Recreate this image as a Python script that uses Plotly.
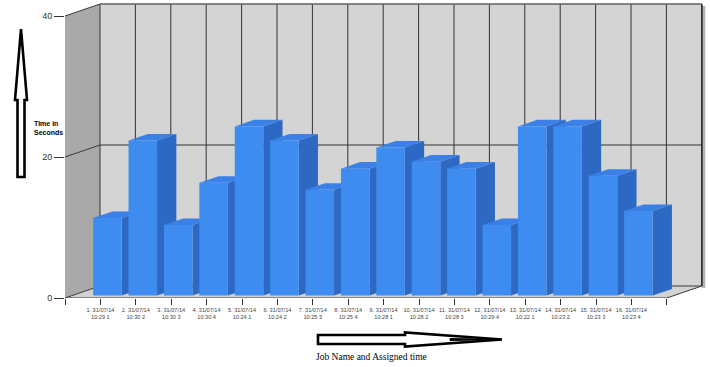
import plotly.graph_objects as go

# ---- data ----
job_ids = list(range(1, 17))
job_dates = ["31/07/14"] * 16
job_times = ["10:29 1", "10:30 2", "10:30 3", "10:30 4", "10:24 1", "10:24 2",
             "10:25 3", "10:25 4", "10:28 1", "10:28 2", "10:28 3", "10:29 4",
             "10:22 1", "10:23 2", "10:23 3", "10:23 4"]
seconds = [11, 22, 10, 16, 24, 22, 15, 18, 21, 19, 18, 10, 24, 24, 17, 12]
y_ticks = [0, 20, 40]

# ---- geometry of the pseudo-3D box (in axis units) ----
PX_X = 35.4          # pixels per category slot
PX_Y = 7.05          # pixels per second
N_SLOTS = 17
Y_TOP = 40
DX, DY = 35 / PX_X, 12 / PX_Y              # wall depth
BX, BY = 7 / PX_X, 2.4 / PX_Y              # bar set-back from the front plane
BDX, BDY = 19.3 / PX_X, 6.6 / PX_Y         # bar depth
BAR_W = 28.5 / PX_X

ML, MR, MT, MB = 65, 4, 1, 69
W, H = 710, 367
x_max = (W - ML - MR) / PX_X
y_max = (H - MT - MB) / PX_Y

FRONT = "#3f8cf0"
SIDE = "#2d69c2"
TOP = "#3a80e6"
EDGE = "#3a3a3a"

shapes = []


def poly(pts, fill, line_color=None, width=0, layer="below", ref=("x", "y")):
    d = "M" + " L".join(f"{x},{y}" for x, y in pts) + " Z"
    shapes.append(dict(type="path", path=d, xref=ref[0], yref=ref[1], layer=layer,
                       fillcolor=fill, line=dict(color=line_color or fill, width=width)))


def seg(x0, y0, x1, y1, color=EDGE, width=1, layer="below"):
    shapes.append(dict(type="line", x0=x0, y0=y0, x1=x1, y1=y1, xref="x", yref="y",
                       layer=layer, line=dict(color=color, width=width)))


# shadow to the right of the back wall
poly([(N_SLOTS + DX, DY - 0.3), (N_SLOTS + DX + 3.5 / PX_X, DY - 0.3),
      (N_SLOTS + DX + 3.5 / PX_X, Y_TOP + DY - 0.3), (N_SLOTS + DX, Y_TOP + DY - 0.3)], "#b5b5b5")
# side wall, back wall, floor
poly([(0, 0), (0, Y_TOP), (DX, Y_TOP + DY), (DX, DY)], "#a9a9a9")
poly([(DX, DY), (DX, Y_TOP + DY), (N_SLOTS + DX, Y_TOP + DY), (N_SLOTS + DX, DY)], "#d4d4d4")
poly([(0, 0), (N_SLOTS, 0), (N_SLOTS + DX, DY), (DX, DY)], "#d2d2d2")

# grid on the back wall
for k in range(N_SLOTS + 1):
    seg(k + DX, DY, k + DX, Y_TOP + DY, color="#333333")
for v in y_ticks[1:]:
    seg(DX, v + DY, N_SLOTS + DX, v + DY, color="#333333")
# grid and edges on the side wall
for v in y_ticks:
    seg(0, v, DX, v + DY)
# floor edges
seg(0, 0, N_SLOTS, 0)
seg(N_SLOTS, 0, N_SLOTS + DX, DY)
seg(DX, DY, N_SLOTS + DX, DY)
seg(N_SLOTS + DX, DY, N_SLOTS + DX, Y_TOP + DY, color="#2a2a2a", width=1.5)
seg(DX, Y_TOP + DY, N_SLOTS + DX, Y_TOP + DY, color="#777777")

# side and top faces of the bars
bar_x = [i + BX for i in job_ids]
for xc, v in zip(bar_x, seconds):
    x0, x1 = xc - BAR_W / 2, xc + BAR_W / 2
    top = BY + v
    poly([(x1, BY), (x1, top), (x1 + BDX, top + BDY), (x1 + BDX, BY + BDY)], SIDE)
    poly([(x0, top), (x1, top), (x1 + BDX, top + BDY), (x0 + BDX, top + BDY)], TOP)


# hand-drawn style arrows beside the axes (pixel positions -> paper)
def px(xp, yp):
    return ((xp - ML) / (W - ML - MR), (H - MB - yp) / (H - MT - MB))


up_arrow = [(17.5, 177), (17.5, 100), (15, 100), (21, 29), (27, 100), (24.5, 100), (24.5, 177)]
right_arrow = [(318, 335), (405, 335), (405, 332.5), (502, 339.5), (405, 346.5), (405, 344), (318, 344)]
for arrow in (up_arrow, right_arrow):
    poly([px(a, b) for a, b in arrow], "white", "black", 2.6, layer="above", ref=("paper", "paper"))
poly([px(a, b) for a, b in [(20, 45), (22, 45), (21, 33)]], "black", "black", 1, layer="above", ref=("paper", "paper"))
poly([px(a, b) for a, b in [(450, 338.5), (450, 340.5), (500, 339.5)]], "black", "black", 1, layer="above", ref=("paper", "paper"))

tick_text = [""] + [f"{i}. {d}<br>{t}" for i, d, t in zip(job_ids, job_dates, job_times)] + [""]

fig = go.Figure(go.Bar(
    x=bar_x, y=seconds, base=BY, width=BAR_W,
    marker=dict(color=FRONT, line=dict(width=0)),
    hoverinfo="skip",
))

tx, ty = px(32, 128)
bx_, by_ = px(314, 357)
fig.update_layout(
    width=W, height=H,
    margin=dict(l=ML, r=MR, t=MT, b=MB),
    paper_bgcolor="white", plot_bgcolor="white",
    showlegend=False,
    shapes=shapes,
    xaxis=dict(range=[0, x_max], tickmode="array", tickvals=list(range(N_SLOTS + 1)),
               ticktext=tick_text, ticks="outside", ticklen=6, tickcolor="#333333",
               tickangle=0,
               tickfont=dict(family="Liberation Sans, Arial", size=5.6, color="#444444"),
               showgrid=False, zeroline=False, showline=False, fixedrange=True),
    yaxis=dict(range=[0, y_max], tickmode="array", tickvals=y_ticks,
               ticks="outside", ticklen=10, tickcolor="#333333",
               tickfont=dict(family="Liberation Sans, Arial", size=9, color="#333333"),
               showgrid=False, zeroline=False, showline=False, fixedrange=True),
    annotations=[
        dict(text="<b>Time in<br>Seconds</b>", x=tx, y=ty, xref="paper", yref="paper",
             xanchor="left", yanchor="middle", align="left", showarrow=False,
             font=dict(family="Liberation Sans, Arial", size=7, color="black")),
        dict(text="Job Name and Assigned time", x=bx_, y=by_, xref="paper", yref="paper",
             xanchor="left", yanchor="middle", showarrow=False,
             font=dict(family="Liberation Serif, Times New Roman", size=9.5, color="black")),
    ],
)

fig.write_html("out.html")
